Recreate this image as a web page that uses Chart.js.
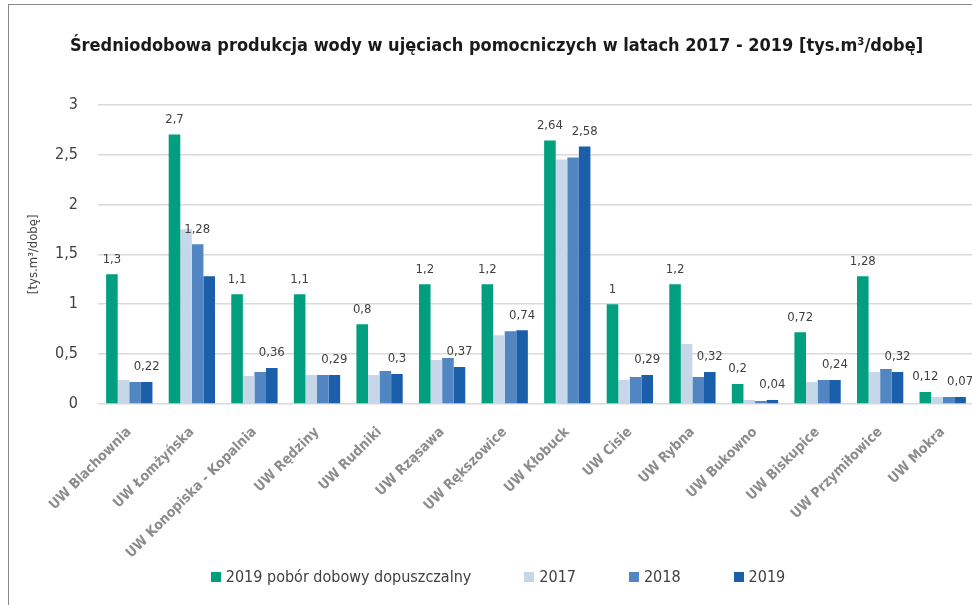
<!DOCTYPE html>
<html>
<head>
<meta charset="utf-8">
<script src="https://cdn.jsdelivr.net/npm/chart.js@4.4.1/dist/chart.umd.min.js"></script>
<style>
    html, body { margin: 0; padding: 0; background: #fff; overflow: hidden; }
    .frame {
        position: absolute; left: 8px; top: 4px;
        width: 972px; height: 601px;
        overflow: hidden;
        border-left: 1px solid #8a8a8a;
        border-top: 1px solid #8a8a8a;
    }
    .frame canvas { display: block; }
    .legend {
        position: absolute; left: 1px; top: 562px; width: 976px;
        display: flex; justify-content: center; align-items: center; gap: 53px;
        font: 16px 'DejaVu Sans Condensed', 'Liberation Sans Narrow', sans-serif;
        color: #404040;
    }
    .legend span.box { display: inline-block; width: 10px; height: 10px; margin-right: 5px; }
    .legend div { display: flex; align-items: center; white-space: nowrap; }
</style>
</head>
<body>
<div class="frame">
    <canvas id="chart" width="971" height="600"></canvas>
    <div class="legend" id="legend"></div>
</div>
<script>
const FONT = "'DejaVu Sans Condensed', 'Liberation Sans Narrow', sans-serif";

const title = 'Średniodobowa produkcja wody w ujęciach pomocniczych w latach 2017 - 2019 [tys.m³/dobę]';
const yTitle = '[tys.m³/dobę]';

const categories = [
    'UW Blachownia', 'UW Łomżyńska', 'UW Konopiska - Kopalnia', 'UW Rędziny', 'UW Rudniki',
    'UW Rząsawa', 'UW Rększowice', 'UW Kłobuck', 'UW Cisie', 'UW Rybna',
    'UW Bukowno', 'UW Biskupice', 'UW Przymiłowice', 'UW Mokra'
];

const seriesNames = ['2019 pobór dobowy dopuszczalny', '2017', '2018', '2019'];

const permitted2019 = [1.3, 2.7, 1.1, 1.1, 0.8, 1.2, 1.2, 2.64, 1, 1.2, 0.2, 0.72, 1.28, 0.12];
const prod2017 = [0.24, 1.75, 0.28, 0.29, 0.29, 0.44, 0.69, 2.45, 0.24, 0.6, 0.04, 0.22, 0.32, 0.07];
const prod2018 = [0.22, 1.6, 0.32, 0.29, 0.33, 0.46, 0.73, 2.47, 0.27, 0.27, 0.03, 0.24, 0.35, 0.07];
const prod2019 = [0.22, 1.28, 0.36, 0.29, 0.3, 0.37, 0.74, 2.58, 0.29, 0.32, 0.04, 0.24, 0.32, 0.07];

const yTicks = [0, 0.5, 1, 1.5, 2, 2.5, 3];

const colors = ['#009f7f', '#c6d7e9', '#5286c2', '#1b5fab'];

// which series get value labels
const labelledSeries = [0, 3];
// Excel had one label dragged off its bar
const labelNudge = { '3:1': [-12, -32] };

const fmt = v => String(v).replace('.', ',');

const valueLabels = {
    id: 'valueLabels',
    afterDatasetsDraw(chart) {
        const ctx = chart.ctx;
        ctx.save();
        ctx.font = '13px ' + FONT;
        ctx.fillStyle = '#404040';
        ctx.textAlign = 'center';
        ctx.textBaseline = 'middle';
        labelledSeries.forEach(di => {
            const meta = chart.getDatasetMeta(di);
            meta.data.forEach((bar, i) => {
                const v = chart.data.datasets[di].data[i];
                const n = labelNudge[di + ':' + i] || [0, 0];
                ctx.fillText(fmt(v), bar.x + n[0], bar.y - 15 + n[1]);
            });
        });
        ctx.restore();
    }
};

const series = [permitted2019, prod2017, prod2018, prod2019];

// legend in html, the chart.js one pads vertically as much as horizontally
const legendEl = document.getElementById('legend');
seriesNames.forEach((name, i) => {
    const item = document.createElement('div');
    const box = document.createElement('span');
    box.className = 'box';
    box.style.background = colors[i];
    item.appendChild(box);
    item.appendChild(document.createTextNode(name));
    legendEl.appendChild(item);
});

new Chart(document.getElementById('chart'), {
    type: 'bar',
    data: {
        labels: categories,
        datasets: series.map((d, i) => ({
            label: seriesNames[i],
            data: d,
            backgroundColor: colors[i],
            borderWidth: 0,
            barPercentage: 1,
            categoryPercentage: 0.74,
        }))
    },
    plugins: [valueLabels],
    options: {
        responsive: false,
        animation: false,
        layout: { padding: { left: 10, right: 6, top: 0, bottom: 0 } },
        plugins: {
            title: {
                display: true,
                text: title,
                color: '#1a1a1a',
                font: { family: FONT, size: 18, weight: 'bold' },
                padding: { top: 31, bottom: 47 },
            },
            legend: { display: false },
            tooltip: { enabled: false },
        },
        scales: {
            x: {
                grid: { display: false },
                border: { display: false },
                ticks: {
                    color: '#8c8c8c',
                    font: { family: FONT, size: 14, weight: 'bold' },
                    minRotation: 45,
                    maxRotation: 45,
                    padding: 12,
                    autoSkip: false,
                },
                afterFit(scale) { scale.height = 201; },
            },
            y: {
                min: 0,
                max: 3,
                afterBuildTicks(scale) { scale.ticks = yTicks.map(v => ({ value: v })); },
                grid: { color: '#d9d9d9', lineWidth: 1.5, drawTicks: false },
                border: { display: false },
                ticks: {
                    color: '#404040',
                    font: { family: FONT, size: 16 },
                    padding: 20,
                    callback: v => fmt(v),
                },
                title: {
                    display: true,
                    text: yTitle,
                    color: '#404040',
                    font: { family: FONT, size: 13 },
                    padding: { top: 7, bottom: 0 },
                },
                afterFit(scale) { scale.width = 79; },
            }
        }
    }
});
</script>
</body>
</html>
